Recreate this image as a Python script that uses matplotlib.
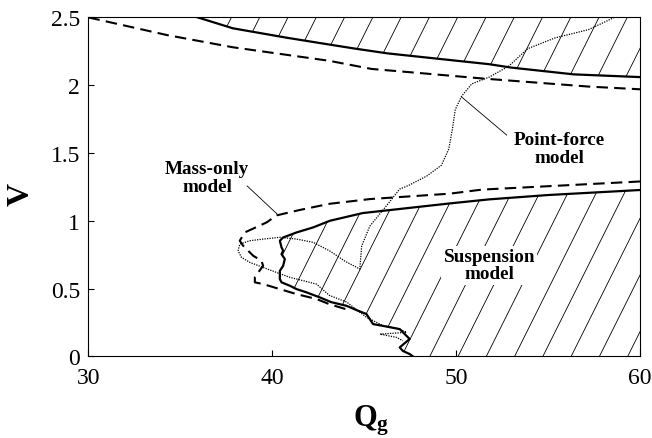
import numpy as np
import matplotlib
matplotlib.use("Agg")
import matplotlib.pyplot as plt
from matplotlib.path import Path
from matplotlib.patches import PathPatch
from matplotlib.collections import LineCollection

plt.rcParams["font.family"] = ["Liberation Serif", "DejaVu Serif"]
plt.rcParams["mathtext.fontset"] = "custom"
plt.rcParams["mathtext.bf"] = "Liberation Serif:bold"
plt.rcParams["mathtext.rm"] = "Liberation Serif"

# Suspension model: upper stability boundary
susp_upper_q = [35.95, 37.85, 40.8, 43.1, 44.5, 46.26, 51.8, 53.0, 56.4, 60.0]
susp_upper_v = [2.50, 2.42, 2.35, 2.30, 2.27, 2.235, 2.155, 2.13, 2.08, 2.06]

# Suspension model: lower boundary (from right edge, round the nose, down to V=0)
susp_lower_q = [60.0, 55.0, 51.8, 49.65, 44.92, 43.13, 42.22, 41.32, 40.59, 40.41,
                40.50, 40.59, 40.50, 40.68, 40.59, 40.41, 40.41, 40.50, 40.95, 41.32,
                41.86, 42.58, 43.2, 44.03, 44.6, 45.12, 45.48, 46.2, 46.93, 47.47,
                46.93, 47.1, 47.47, 47.64]
susp_lower_v = [1.227, 1.19, 1.158, 1.128, 1.057, 1.0, 0.951, 0.914, 0.877, 0.853,
                0.804, 0.779, 0.754, 0.718, 0.668, 0.631, 0.570, 0.546, 0.521, 0.496,
                0.472, 0.435, 0.40, 0.373, 0.34, 0.312, 0.238, 0.22, 0.201, 0.128,
                0.066, 0.04, 0.017, 0.0]

# Mass-only model
mass_upper_q = [30.0, 34.27, 37.85, 43.1, 45.4, 48.0, 51.4, 57.2, 60.0]
mass_upper_v = [2.50, 2.37, 2.28, 2.18, 2.12, 2.09, 2.05, 1.99, 1.97]

mass_lower_q = [60.0, 55.0, 51.4, 49.65, 45.3, 43.1, 41.5, 40.24, 39.69, 38.5,
                38.23, 38.41, 38.96, 39.41, 39.5, 39.05, 39.05, 39.5, 40.41, 41.32,
                42.4, 43.1, 44.2]
mass_lower_v = [1.29, 1.255, 1.23, 1.20, 1.16, 1.125, 1.08, 1.04, 0.988, 0.914,
                0.853, 0.816, 0.742, 0.705, 0.668, 0.585, 0.546, 0.533, 0.496, 0.459,
                0.423, 0.385, 0.34]

# Point-force model
pf_q = [58.6, 57.2, 55.4, 53.9, 52.85, 51.8, 50.85, 50.3, 49.95, 49.8,
        49.6, 49.2, 48.4, 47.4, 46.93, 46.28, 45.3, 44.86, 44.76, 43.94,
        43.13, 42.22, 41.32, 40.41, 39.5, 38.78, 38.23, 38.14, 38.32, 38.78,
        39.5, 40.23, 40.95, 41.68, 42.4, 43.1, 44.05, 45.12, 46.03, 46.93,
        47.3, 45.85, 46.75, 47.1]
pf_v = [2.50, 2.41, 2.35, 2.27, 2.14, 2.06, 2.01, 1.92, 1.82, 1.68,
        1.53, 1.41, 1.33, 1.26, 1.234, 1.123, 0.96, 0.813, 0.644, 0.703,
        0.777, 0.841, 0.865, 0.878, 0.865, 0.853, 0.828, 0.779, 0.730, 0.693,
        0.656, 0.619, 0.583, 0.558, 0.533, 0.45, 0.40, 0.288, 0.226, 0.201,
        0.177, 0.164, 0.14, 0.115]

x_ticks = [30, 40, 50, 60]
y_ticks = [0, 0.5, 1, 1.5, 2, 2.5]
y_tick_labels = ["0", "0.5", "1", "1.5", "2", "2.5"]

fig = plt.figure(figsize=(6.52, 4.39), dpi=100)
ax = fig.add_axes([0.1357, 0.186, 0.8459, 0.772])
ax.set_xlim(30, 60)
ax.set_ylim(0, 2.5)

# Hatched (stable) regions of the suspension model
upper_region = list(zip(susp_upper_q, susp_upper_v)) + [(60.0, 2.5)]
lower_region = list(zip(susp_lower_q, susp_lower_v)) + [(60.0, 0.0)]
hatch_step = 1.538
hatch_rise = 9.2  # Q shift over the full V range
starts = np.arange(53.18 - 20 * hatch_step, 61, hatch_step)
segs = [[(q0, 0.0), (q0 + hatch_rise, 2.5)] for q0 in starts]
for region in (upper_region, lower_region):
    patch = PathPatch(Path(region + [region[0]], closed=True),
                      facecolor="none", edgecolor="none")
    ax.add_patch(patch)
    lc = LineCollection(segs, colors="black", linewidths=0.6)
    ax.add_collection(lc)
    lc.set_clip_path(patch)

ax.plot(susp_upper_q, susp_upper_v, color="black", lw=1.6, solid_joinstyle="round")
ax.plot(susp_lower_q, susp_lower_v, color="black", lw=1.6, solid_joinstyle="round")
ax.plot(mass_upper_q, mass_upper_v, color="black", lw=1.5, dashes=(5.5, 3))
ax.plot(mass_lower_q, mass_lower_v, color="black", lw=1.5, dashes=(5.5, 3))
ax.plot(pf_q, pf_v, color="black", lw=0.9, linestyle=(0, (1, 1)))

lab_font = dict(fontsize=13.8, fontweight="bold", ha="center", va="center",
                linespacing=1.05)
ax.text(36.45, 1.32, "Mass-only\nmodel", **lab_font)
ax.text(55.6, 1.535, "Point-force\nmodel", **lab_font)
ax.text(51.8, 0.673, "Suspension\nmodel", zorder=5,
        bbox=dict(facecolor="white", edgecolor="none", pad=1.5), **lab_font)
ax.plot([38.63, 40.26], [1.257, 1.05], color="black", lw=0.6)
ax.plot([52.75, 50.3], [1.632, 1.913], color="black", lw=0.6)

ax.set_xticks(x_ticks)
ax.set_xticklabels([str(t) for t in x_ticks])
ax.set_yticks(y_ticks)
ax.set_yticklabels(y_tick_labels)
ax.tick_params(direction="in", length=4, width=0.8, labelsize=17, pad=6)
ax.tick_params(axis="x", pad=8)
for s in ax.spines.values():
    s.set_linewidth(0.8)

fig.text(21 / 652, 1 - 194 / 439, "V", rotation=90, fontsize=23,
         fontweight="bold", ha="center", va="center")
fig.text(371 / 652, 1 - 421 / 439, r"$\mathbf{Q_g}$", fontsize=22,
         ha="center", va="center")

fig.savefig("out.png", dpi=100)
